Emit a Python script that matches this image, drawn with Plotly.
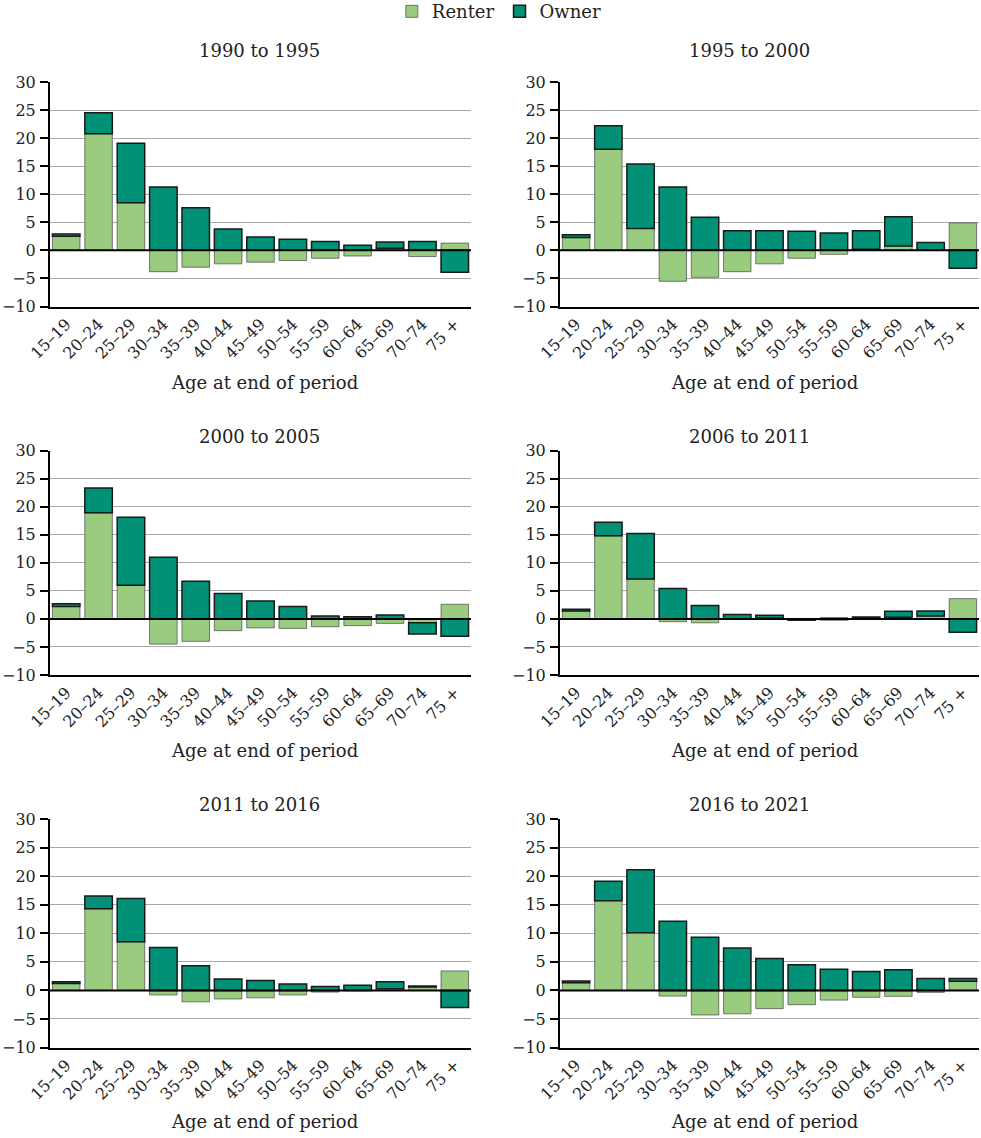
import plotly.graph_objects as go
from plotly.subplots import make_subplots

ages = ["15–19", "20–24", "25–29", "30–34", "35–39", "40–44", "45–49",
        "50–54", "55–59", "60–64", "65–69", "70–74", "75 +"]

titles = ["1990 to 1995", "1995 to 2000", "2000 to 2005",
          "2006 to 2011", "2011 to 2016", "2016 to 2021"]

p1_renter = [2.5, 20.8, 8.5, -3.8, -3.0, -2.4, -2.1, -1.8, -1.4, -1.0, 0.4, -1.1, 1.3]
p1_owner = [0.4, 3.7, 10.6, 11.3, 7.6, 3.8, 2.4, 2.0, 1.6, 0.9, 1.1, 1.6, -3.9]

p2_renter = [2.3, 18.0, 3.9, -5.5, -4.8, -3.8, -2.4, -1.4, -0.7, 0.2, 0.8, 0.0, 4.9]
p2_owner = [0.5, 4.2, 11.5, 11.3, 5.9, 3.5, 3.5, 3.4, 3.1, 3.3, 5.2, 1.4, -3.2]

p3_renter = [2.2, 18.9, 6.0, -4.5, -4.0, -2.1, -1.6, -1.7, -1.4, -1.2, -0.8, -0.7, 2.6]
p3_owner = [0.5, 4.4, 12.1, 11.0, 6.7, 4.5, 3.2, 2.2, 0.5, 0.4, 0.7, -2.0, -3.1]

p4_renter = [1.4, 14.8, 7.1, -0.5, -0.7, 0.0, 0.15, -0.05, 0.25, 0.05, 0.3, 0.5, 3.6]
p4_owner = [0.3, 2.4, 8.1, 5.4, 2.4, 0.8, 0.5, -0.2, -0.15, 0.3, 1.05, 0.9, -2.4]

p5_renter = [1.2, 14.3, 8.5, -0.8, -2.0, -1.5, -1.3, -0.8, -0.3, 0.0, 0.3, 0.6, 3.4]
p5_owner = [0.3, 2.2, 7.6, 7.5, 4.3, 2.0, 1.75, 1.1, 0.7, 0.9, 1.2, 0.15, -3.0]

p6_renter = [1.35, 15.7, 10.1, -1.0, -4.3, -4.1, -3.2, -2.5, -1.7, -1.2, -1.05, -0.35, 1.6]
p6_owner = [0.3, 3.4, 11.0, 12.1, 9.3, 7.4, 5.6, 4.5, 3.7, 3.3, 3.6, 2.1, 0.5]

renters = [p1_renter, p2_renter, p3_renter, p4_renter, p5_renter, p6_renter]
owners = [p1_owner, p2_owner, p3_owner, p4_owner, p5_owner, p6_owner]

y_ticks = [-10, -5, 0, 5, 10, 15, 20, 25, 30]

RENTER = "#99CC7E"
OWNER = "#009177"
FONT = "DejaVu Serif"
W, H = 981, 1138

fig = make_subplots(rows=3, cols=2)

for i in range(6):
    r, c = i // 2 + 1, i % 2 + 1
    fig.add_trace(go.Bar(x=ages, y=renters[i], name="Renter",
                         marker=dict(color=RENTER, line=dict(color="rgba(80,80,80,0.75)", width=1)),
                         showlegend=(i == 0), legendgroup="r"), row=r, col=c)
    fig.add_trace(go.Bar(x=ages, y=owners[i], name="Owner",
                         marker=dict(color=OWNER, line=dict(color="#1a1a1a", width=1.5)),
                         showlegend=(i == 0), legendgroup="o"), row=r, col=c)

# domains in pixels
x_dom = {1: (50, 471), 2: (560, 979)}
y_dom = {1: (82, 306.5), 2: (450.5, 675), 3: (819, 1047.5)}
title_x = {1: 259, 2: 749}
title_y = {1: 50, 2: 437, 3: 805}
axt_x = {1: 264, 2: 764}
axt_y = {1: 382, 2: 750, 3: 1121}

annotations = []
shapes = []
for i in range(6):
    r, c = i // 2 + 1, i % 2 + 1
    k = "" if i == 0 else str(i + 1)
    xa = fig.layout["xaxis" + k]
    ya = fig.layout["yaxis" + k]
    xa.domain = [x_dom[c][0] / W, x_dom[c][1] / W]
    ya.domain = [1 - y_dom[r][1] / H, 1 - y_dom[r][0] / H]
    xa.update(tickangle=-45, tickfont=dict(family=FONT, size=16, color="#222"),
              showline=True, linecolor="black", linewidth=2, ticks="",
              showgrid=False, range=[-0.5, 12.5], automargin=False)
    ya.update(range=[-10, 30], tickvals=y_ticks,
              ticktext=[("−" + str(-v)) if v < 0 else str(v) for v in y_ticks],
              tickfont=dict(family=FONT, size=16, color="#222"),
              showline=True, linecolor="black", linewidth=2,
              ticks="outside", ticklen=8, tickcolor="black", tickwidth=1.5,
              ticklabelstandoff=1,
              showgrid=True, gridcolor="#a8a8a8", gridwidth=1, zeroline=False,
              automargin=False)
    shapes.append(dict(type="line", xref="x" + k + " domain", yref="y" + k,
                       x0=0, x1=1, y0=0, y1=0, line=dict(color="black", width=2),
                       layer="above"))
    annotations.append(dict(text=titles[i], x=title_x[c] / W, y=1 - title_y[r] / H,
                            xref="paper", yref="paper", showarrow=False,
                            xanchor="center", yanchor="middle",
                            font=dict(family=FONT, size=18, color="#222")))
    annotations.append(dict(text="Age at end of period", x=axt_x[c] / W, y=1 - axt_y[r] / H,
                            xref="paper", yref="paper", showarrow=False,
                            xanchor="center", yanchor="middle",
                            font=dict(family=FONT, size=18, color="#222")))

fig.update_layout(
    width=W, height=H,
    margin=dict(l=0, r=0, t=0, b=0, autoexpand=False),
    barmode="relative", bargap=0.15,
    plot_bgcolor="white", paper_bgcolor="white",
    font=dict(family=FONT, color="#222"),
    legend=dict(orientation="h", x=0.509, xanchor="center", y=1.006, yanchor="top",
                font=dict(family=FONT, size=18, color="#222"), traceorder="normal",
                itemwidth=30, bgcolor="rgba(0,0,0,0)"),
    annotations=annotations, shapes=shapes,
)

fig.write_html("out.html", config={"displayModeBar": False},
               post_script="document.body.style.margin='0px';")
